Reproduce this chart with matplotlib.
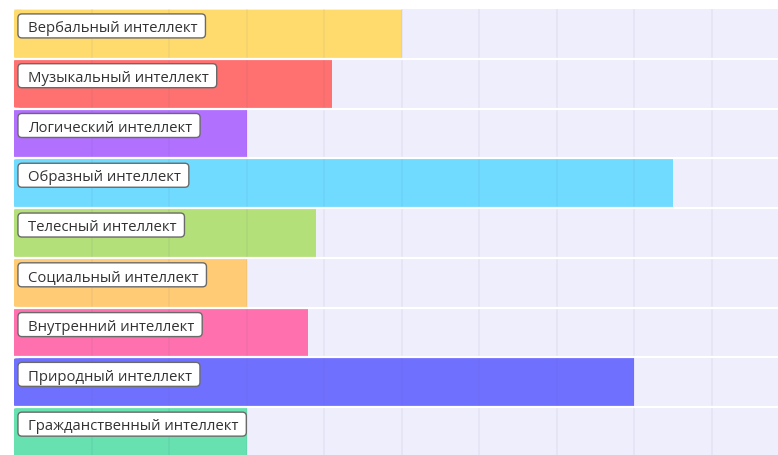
import matplotlib
matplotlib.use("Agg")
import matplotlib.pyplot as plt
from matplotlib.patches import FancyBboxPatch
from matplotlib.transforms import IdentityTransform

plt.rcParams['font.family'] = ['Open Sans', 'DejaVu Sans']

# Data
categories = [
    'Вербальный интеллект',
    'Музыкальный интеллект',
    'Логический интеллект',
    'Образный интеллект',
    'Телесный интеллект',
    'Социальный интеллект',
    'Внутренний интеллект',
    'Природный интеллект',
    'Гражданственный интеллект',
]
values = [5.0, 4.1, 3.0, 8.5, 3.9, 3.0, 3.8, 8.0, 3.0]
colors = ['#FFDB6E', '#FF7070', '#B270FF', '#70DBFF', '#B4E07A',
          '#FFCB74', '#FF70AE', '#7070FF', '#66E1AF']

W, H = 778, 455
fig = plt.figure(figsize=(W / 100, H / 100), dpi=100)
# axes run slightly past the right and bottom edges, like the cropped original
ax = fig.add_axes([14 / W, -2 / H, 775 / W, 448 / H])
ax.set_facecolor('#EEEEFC')

n = len(categories)
ax.set_xlim(0, 10)
ax.set_ylim(n - 0.5, -0.5)

bh = 0.97
r = 0.06
for i, (v, c) in enumerate(zip(values, colors)):
    # square body + small rounded cap on the left
    ax.barh(i, v - r, left=r, height=bh, color=c, zorder=2, linewidth=0)
    cap = FancyBboxPatch((0, i - bh / 2), 2 * r, bh,
                         boxstyle='round,pad=0,rounding_size=0.04',
                         mutation_aspect=0.64, fc=c, ec='none', zorder=2)
    ax.add_patch(cap)

# faint vertical grid drawn over the bars
for x in range(1, 11):
    ax.axvline(x, color=(0.3, 0.3, 0.5, 0.065), lw=1.2, zorder=3)

# white separators between rows
for i in range(n - 1):
    ax.axhline(i + 0.5, color='white', lw=1.6, zorder=4)

texts = []
for i, name in enumerate(categories):
    t = ax.text(0.18, i - 0.035, name, ha='left', va='baseline',
                fontsize=10.7, color='#333333', zorder=6)
    texts.append((i, t))

ax.set_xticks([])
ax.set_yticks([])
for s in ax.spines.values():
    s.set_visible(False)

# white label boxes sized around the text, in pixels
fig.canvas.draw()
rend = fig.canvas.get_renderer()
for i, t in texts:
    bb = t.get_window_extent(rend)
    cy = ax.transData.transform((0, i - 0.16))[1]
    box = FancyBboxPatch((bb.x0 - 10, cy - 12), bb.width + 18, 24,
                         boxstyle='round,pad=0,rounding_size=4',
                         fc='white', ec='#6a6a6a', lw=1,
                         transform=IdentityTransform(), zorder=5,
                         clip_on=False)
    ax.add_artist(box)

fig.savefig('out.png', dpi=100, facecolor='white')
